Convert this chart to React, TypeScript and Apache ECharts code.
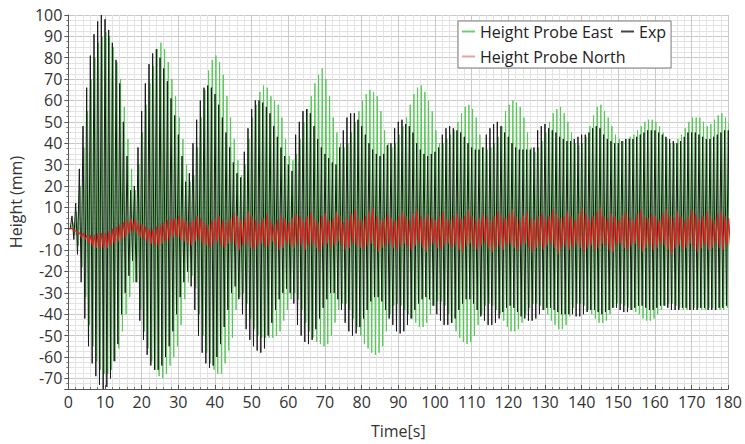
import React, { useEffect, useRef } from "react";
import * as echarts from "echarts";

// Envelope values, one crest and one trough per second (t = 0..180 s)
const EXP_HI = [
  0, 6, 12, 28, 48, 66, 81, 91, 97, 100,
  98, 93, 87, 79, 68, 50, 34, 18, 20, 38,
  55, 68, 77, 82, 84, 80, 75, 69, 61, 53,
  44, 34, 22, 26, 40, 51, 60, 66, 67, 66,
  63, 58, 52, 45, 38, 31, 26, 24, 36, 47,
  56, 60, 60, 59, 57, 54, 48, 43, 38, 34,
  30, 27, 44, 50, 55, 56, 54, 48, 42, 38,
  35, 33, 31, 30, 38, 46, 52, 54, 54, 51,
  48, 44, 40, 37, 35, 34, 35, 39, 40, 47,
  50, 51, 49, 48, 45, 40, 37, 35, 34, 35,
  36, 38, 44, 47, 48, 47, 46, 45, 43, 40,
  38, 37, 37, 38, 44, 47, 49, 50, 48, 45,
  43, 40, 38, 37, 37, 37, 37, 38, 46, 48,
  49, 47, 46, 45, 43, 42, 41, 41, 42, 43,
  44, 44, 45, 47, 48, 47, 44, 42, 41, 40,
  40, 41, 42, 42, 42, 43, 44, 45, 46, 46,
  46, 45, 44, 43, 42, 41, 40, 41, 43, 45,
  45, 45, 44, 43, 42, 42, 43, 44, 45, 46,
  46,
];
const EXP_LO = [
  0, -5, -12, -25, -42, -55, -63, -69, -73, -75,
  -74, -70, -62, -54, -40, -30, -22, -15, -25, -43,
  -52, -59, -64, -66, -66, -64, -60, -55, -48, -40,
  -32, -25, -20, -27, -38, -50, -58, -63, -65, -64,
  -60, -54, -46, -38, -30, -27, -33, -40, -47, -52,
  -55, -57, -58, -56, -50, -44, -38, -33, -30, -28,
  -30, -35, -45, -50, -53, -54, -52, -47, -42, -37,
  -33, -30, -30, -33, -38, -44, -48, -50, -49, -46,
  -42, -38, -34, -32, -32, -34, -38, -42, -45, -48,
  -49, -48, -45, -42, -38, -35, -33, -32, -33, -36,
  -40, -43, -45, -45, -44, -42, -38, -35, -33, -33,
  -35, -38, -41, -43, -45, -45, -44, -42, -39, -37,
  -36, -37, -39, -41, -42, -43, -43, -42, -40, -38,
  -37, -37, -38, -39, -40, -40, -40, -40, -41, -41,
  -40, -39, -38, -38, -39, -40, -39, -38, -37, -37,
  -38, -39, -39, -38, -37, -36, -36, -37, -38, -38,
  -37, -36, -36, -37, -38, -38, -38, -37, -37, -38,
  -38, -38, -37, -37, -38, -38, -38, -37, -37, -36,
  -36,
];
const EAST_HI = [
  0, 3, 8, 20, 38, 55, 70, 80, 87, 90,
  92, 90, 85, 78, 70, 57, 42, 28, 18, 30,
  45, 58, 68, 76, 84, 87, 84, 78, 70, 62,
  52, 42, 30, 22, 25, 38, 52, 65, 74, 79,
  81, 78, 72, 62, 52, 42, 32, 25, 30, 42,
  52, 58, 64, 67, 66, 62, 60, 58, 52, 42,
  34, 32, 35, 42, 50, 56, 62, 68, 72, 75,
  70, 62, 52, 45, 40, 38, 40, 45, 50, 55,
  60, 63, 65, 64, 62, 55, 46, 40, 38, 40,
  44, 48, 52, 58, 63, 66, 67, 64, 60, 55,
  46, 40, 40, 42, 44, 46, 50, 54, 57, 58,
  56, 52, 44, 38, 37, 38, 40, 43, 48, 55,
  58, 60, 59, 57, 52, 45, 38, 36, 38, 41,
  45, 50, 54, 56, 57, 54, 50, 45, 40, 39,
  40, 43, 48, 53, 57, 58, 55, 52, 48, 44,
  42, 41, 42, 43, 44, 46, 48, 50, 51, 51,
  50, 48, 45, 42, 40, 40, 42, 44, 47, 50,
  52, 52, 52, 50, 48, 49, 51, 53, 54, 52,
  50,
];
const EAST_LO = [
  0, -3, -8, -18, -32, -45, -55, -62, -66, -68,
  -68, -66, -62, -56, -48, -40, -32, -25, -25, -38,
  -48, -56, -62, -66, -69, -70, -68, -64, -60, -55,
  -45, -33, -25, -22, -28, -40, -50, -58, -63, -66,
  -68, -68, -63, -57, -51, -38, -32, -30, -35, -42,
  -47, -50, -51, -51, -51, -51, -50, -48, -43, -38,
  -33, -30, -33, -38, -44, -48, -51, -53, -54, -55,
  -54, -50, -44, -38, -35, -35, -38, -42, -46, -50,
  -54, -56, -58, -59, -58, -55, -48, -40, -36, -35,
  -36, -38, -40, -42, -44, -46, -46, -44, -40, -36,
  -34, -34, -36, -40, -44, -48, -51, -53, -54, -53,
  -50, -45, -40, -36, -35, -36, -38, -40, -43, -46,
  -48, -48, -47, -44, -40, -37, -35, -35, -36, -38,
  -40, -43, -45, -47, -47, -45, -41, -37, -35, -35,
  -36, -38, -40, -42, -44, -44, -43, -40, -37, -35,
  -35, -36, -37, -38, -39, -40, -42, -43, -43, -42,
  -40, -38, -36, -35, -35, -36, -37, -38, -38, -38,
  -37, -37, -38, -38, -37, -37, -38, -38, -38, -37,
  -37,
];
const NORTH_HI = [
  0, 0, -1, -2, -2, -3, -3, -3, -2, -2,
  -2, -1, 0, 1, 2, 3, 4, 5, 4, 3,
  2, 1, 0, 0, 1, 2, 3, 4, 5, 5,
  6, 5, 4, 3, 4, 6, 5, 3, 2, 4,
  5, 6, 4, 3, 5, 7, 6, 4, 5, 8,
  6, 4, 3, 5, 7, 4, 2, 4, 6, 5,
  3, 5, 7, 6, 4, 6, 8, 5, 3, 6,
  7, 4, 5, 8, 6, 3, 5, 7, 9, 5,
  4, 6, 8, 10, 6, 4, 5, 7, 5, 4,
  6, 8, 6, 4, 7, 9, 6, 5, 7, 5,
  4, 6, 8, 5, 4, 6, 7, 5, 6, 9,
  6, 4, 5, 7, 6, 4, 6, 8, 6, 5,
  7, 9, 6, 4, 6, 8, 5, 4, 6, 7,
  5, 6, 9, 7, 5, 6, 8, 6, 4, 7,
  10, 7, 5, 6, 8, 10, 6, 5, 7, 6,
  4, 6, 8, 5, 4, 7, 9, 6, 5, 7,
  6, 4, 7, 9, 6, 5, 8, 6, 4, 6,
  9, 7, 5, 6, 8, 6, 4, 7, 8, 6,
  5,
];
const NORTH_LO = [
  0, -1, -2, -4, -5, -7, -8, -9, -9, -9,
  -9, -8, -7, -6, -5, -4, -2, -1, -2, -4,
  -5, -6, -7, -8, -8, -7, -6, -5, -4, -4,
  -5, -6, -7, -8, -6, -5, -7, -8, -9, -7,
  -6, -8, -9, -7, -6, -8, -10, -8, -7, -9,
  -10, -8, -7, -9, -8, -6, -8, -10, -9, -7,
  -8, -9, -7, -8, -10, -8, -7, -9, -11, -8,
  -7, -9, -8, -6, -8, -10, -9, -7, -8, -9,
  -10, -8, -7, -9, -11, -9, -8, -7, -9, -10,
  -8, -7, -9, -10, -8, -7, -9, -11, -8, -7,
  -9, -10, -8, -7, -9, -8, -10, -11, -8, -7,
  -9, -10, -8, -7, -9, -11, -9, -8, -10, -8,
  -7, -9, -10, -8, -7, -9, -11, -9, -8, -10,
  -8, -7, -9, -12, -9, -8, -10, -9, -7, -9,
  -11, -9, -8, -10, -9, -7, -8, -10, -11, -8,
  -7, -9, -10, -8, -7, -9, -11, -9, -8, -10,
  -9, -7, -8, -10, -12, -9, -8, -10, -9, -7,
  -9, -11, -9, -8, -10, -9, -7, -9, -10, -8,
  -8,
];

const SERIES_NAMES = ["Height Probe East", "Exp", "Height Probe North"];
const SERIES_COLORS = ["#55c955", "#1a1a1a", "#e0201f"];
const LEGEND_COLORS = ["#6fd06f", "#444444", "#eaa0a0"];
const FONT = "'Open Sans', 'Noto Sans', sans-serif";

function zigzag(hi: number[], lo: number[], phase: number): [number, number][] {
  const pts: [number, number][] = [];
  for (let i = 0; i < hi.length; i++) {
    pts.push([i + phase, hi[i]]);
    pts.push([i + phase + 0.5, lo[i]]);
  }
  return pts;
}

export default function App() {
  const ref = useRef<HTMLDivElement>(null);
  useEffect(() => {
    if (!ref.current) return;
    const chart = echarts.init(ref.current, null, { renderer: "svg" });
    const axisText = { fontSize: 16, color: "#333", fontFamily: FONT };
    const sources = [
      zigzag(EAST_HI, EAST_LO, 0.25),
      zigzag(EXP_HI, EXP_LO, 0),
      zigzag(NORTH_HI, NORTH_LO, 0.1),
    ];
    chart.setOption({
      animation: false,
      grid: { left: 68, right: 16, top: 15, bottom: 52 },
      legend: {
        data: SERIES_NAMES.map((name, i) => ({
          name,
          icon: "rect",
          itemStyle: { color: LEGEND_COLORS[i], borderWidth: 0, borderColor: LEGEND_COLORS[i] },
        })),
        icon: "rect",
        itemStyle: { borderWidth: 0 },
        left: 458,
        top: 21,
        width: 206,
        itemWidth: 13,
        itemHeight: 2,
        itemGap: 8,
        padding: [2, 5, 3, 4],
        borderColor: "#7a7a7a",
        borderWidth: 1,
        backgroundColor: "#fff",
        textStyle: { fontSize: 16, color: "#222", fontFamily: FONT, lineHeight: 17 },
      },
      xAxis: {
        type: "value",
        min: 0,
        max: 180,
        interval: 10,
        name: "Time[s]",
        nameLocation: "middle",
        nameGap: 34,
        nameTextStyle: axisText,
        axisLine: { show: true, onZero: false, lineStyle: { color: "#555" } },
        axisTick: { show: true, inside: true, length: 4, lineStyle: { color: "#555" } },
        minorTick: { show: true, splitNumber: 5, length: 2, lineStyle: { color: "#777" } },
        axisLabel: { ...axisText, margin: 5 },
        splitLine: { show: true, lineStyle: { color: "#c9c9c9", width: 1 } },
        minorSplitLine: { show: true, lineStyle: { color: "#e3e3e3", width: 1 } },
      },
      yAxis: {
        type: "value",
        min: -75,
        max: 100,
        splitNumber: 17,
        name: "Height (mm)",
        nameLocation: "middle",
        nameGap: 42,
        nameTextStyle: axisText,
        axisLine: { show: true, onZero: false, lineStyle: { color: "#555" } },
        axisTick: { show: true, length: 4, lineStyle: { color: "#555" } },
        minorTick: { show: true, splitNumber: 4, length: 2, lineStyle: { color: "#777" } },
        axisLabel: { ...axisText, margin: 6, showMinLabel: false },
        splitLine: { show: true, lineStyle: { color: "#c9c9c9", width: 1 } },
        minorSplitLine: { show: true, lineStyle: { color: "#e3e3e3", width: 1 } },
      },
      series: SERIES_NAMES.map((name, i) => ({
        name,
        type: "line",
        data: sources[i],
        showSymbol: false,
        symbol: "none",
        lineStyle: { color: SERIES_COLORS[i], width: i === 2 ? 1.2 : 1 },
        itemStyle: { color: LEGEND_COLORS[i] },
      })),
    });
    return () => chart.dispose();
  }, []);
  return (
    <div
      ref={ref}
      style={{ position: "fixed", left: 0, top: 0, width: 745, height: 444, background: "#fff" }}
    />
  );
}
